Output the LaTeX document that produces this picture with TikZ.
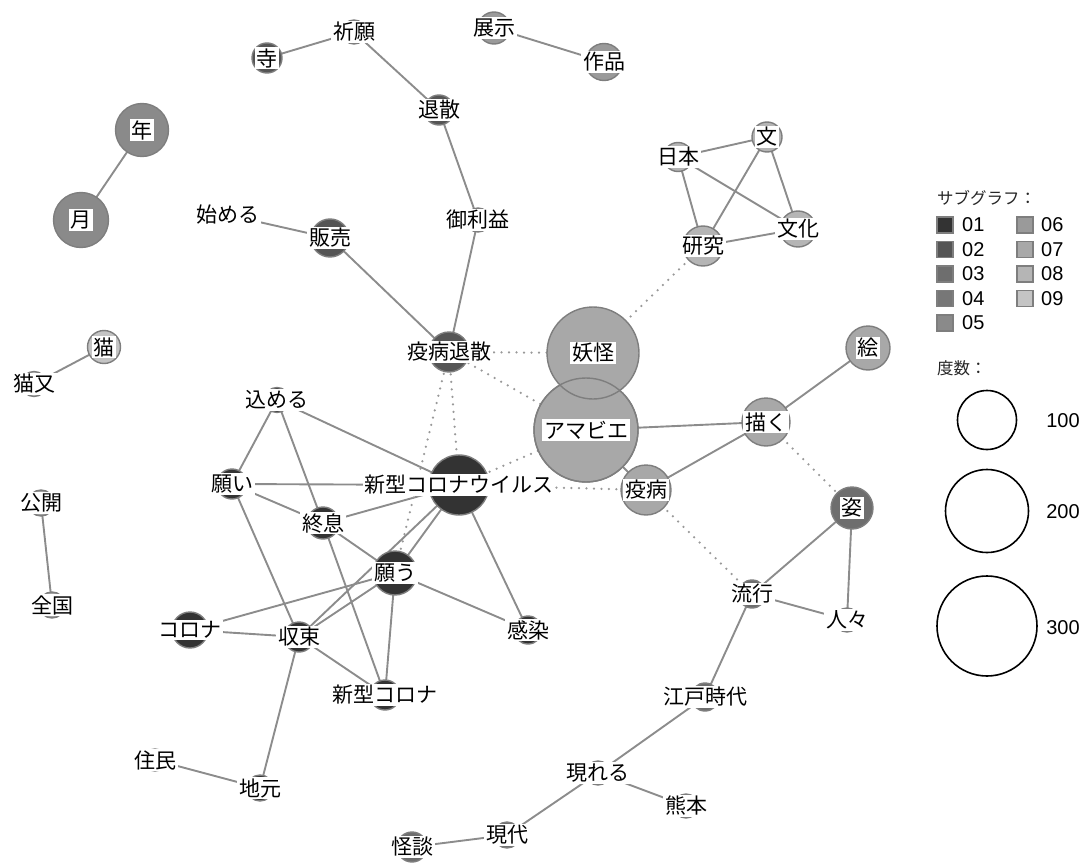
\documentclass[tikz,border=0pt]{standalone}
\usepackage{fontspec}
\setmainfont{Noto Sans CJK JP}
\newfontfamily\latinfont{Liberation Sans}
\definecolor{g1}{HTML}{333333}
\definecolor{g2}{HTML}{555555}
\definecolor{g3}{HTML}{6E6E6E}
\definecolor{g4}{HTML}{777777}
\definecolor{g5}{HTML}{8A8A8A}
\definecolor{g6}{HTML}{9A9A9A}
\definecolor{g7}{HTML}{A8A8A8}
\definecolor{g8}{HTML}{B5B5B5}
\definecolor{g9}{HTML}{C4C4C4}
\definecolor{gk}{HTML}{A2A2A2}
\definecolor{edgegray}{HTML}{8C8C8C}
\definecolor{dotgray}{HTML}{999999}
\definecolor{rimgray}{HTML}{7E7E7E}
\newcommand\labfont{\fontsize{21}{23}\selectfont}
\begin{document}
\begin{tikzpicture}[x=1pt,y=-1pt,
  edge/.style={draw=edgegray, line width=1.9pt},
  dotedge/.style={draw=dotgray, line width=2.5pt, line cap=round, dash pattern=on 0pt off 7.5pt},
  circ/.style={circle, draw=rimgray, line width=1.4pt, inner sep=0pt},
  lab/.style={fill=white, inner sep=1.6pt, font=\labfont},
  legsq/.style={draw=rimgray, line width=1.2pt, minimum size=16pt, inner sep=0pt},
  legtxt/.style={font=\latinfont\fontsize{20}{22}\selectfont, anchor=west, inner sep=0pt},
  legcirc/.style={circle, draw=black, line width=1.6pt, inner sep=0pt}
]
\useasboundingbox (0,0) rectangle (1085,867);
% node data: id / x / y / diameter / colour / label
\def\nodelist{
  sc/459/485/60/g1/新型コロナウイルス,
  negau/395/573/44/g1/願う,
  shusoku/323/523/32/g1/終息,
  komeru/277/400/25/g1/込める,
  negai/232/484/30/g1/願い,
  corona/190/630/36/g1/コロナ,
  shuso/299/637/30/g1/収束,
  sccorona/385/695/30/g1/新型コロナ,
  kansen/528/630/28/g1/感染,
  jumin/155/760/22/g1/住民,
  jimoto/260/788/26/g1/地元,
  tera/267/58/30/g2/寺,
  kigan/354/32/24/g2/祈願,
  taisan/439/110/30/g2/退散,
  goriyaku/478/220/24/g2/御利益,
  ekitai/449/352/40/g2/疫病退散,
  hanbai/330/238/38/g2/販売,
  hajimeru/228/215/20/g2/始める,
  sugata/852/508/42/g3/姿,
  ryuko/752/594/28/g3/流行,
  hitobito/847/620/24/g3/人々,
  edo/705/697/28/g3/江戸時代,
  arawareru/598/773/24/g3/現れる,
  kumamoto/686/806/24/g3/熊本,
  gendai/507/835/26/g3/現代,
  kaidan/412/847/30/g3/怪談,
  nen/142/130/53/g5/年,
  tsuki/81/220/55/g5/月,
  tenji/494/28/32/g6/展示,
  sakuhin/604/62/37/g6/作品,
  amabie/586/430/104/g7/アマビエ,
  yokai/593/353/92/g7/妖怪,
  kaku/766/422/48/g7/描く,
  e/868/348/44/g7/絵,
  ekibyo/646/490/50/g7/疫病,
  nihon/678/157/29/g8/日本,
  bun/767/137/30/g8/文,
  bunka/798/229/36/g8/文化,
  kenkyu/703/246/40/g8/研究,
  kokai/41/503/26/gk/公開,
  zenkoku/52/605/26/gk/全国,
  neko/104/347/33/g9/猫,
  nekomata/34/384/25/g9/猫又
}
% positions
\foreach \nid/\nx/\ny/\nd/\nc/\nt in \nodelist {
  \coordinate (\nid) at (\nx,\ny);
}
% solid connectors
\foreach \a/\b in {nen/tsuki, tera/kigan, kigan/taisan, taisan/goriyaku, goriyaku/ekitai,
  hajimeru/hanbai, hanbai/ekitai, tenji/sakuhin,
  nihon/bun, nihon/kenkyu, nihon/bunka, bun/kenkyu, bun/bunka, kenkyu/bunka,
  neko/nekomata, kokai/zenkoku,
  amabie/kaku, kaku/e, kaku/ekibyo, amabie/ekibyo,
  sugata/ryuko, sugata/hitobito, ryuko/hitobito, ryuko/edo, edo/arawareru,
  arawareru/kumamoto, arawareru/gendai, gendai/kaidan,
  komeru/sc, komeru/negai, komeru/shusoku, negai/sc, negai/shusoku, negai/shuso,
  shusoku/sc, shusoku/negau, shusoku/sccorona, negau/sc, negau/corona, negau/shuso,
  negau/sccorona, negau/kansen, sc/kansen, sc/shuso, corona/shuso, shuso/sccorona,
  shuso/jimoto, jimoto/jumin}
  \draw[edge] (\a) -- (\b);
% dotted connectors
\foreach \a/\b in {ekitai/yokai, ekitai/amabie, ekitai/sc, ekitai/negau, yokai/kenkyu,
  amabie/sc, sc/ekibyo, kaku/sugata, ekibyo/ryuko}
  \draw[dotedge] (\a) -- (\b);
% circles
\foreach \nid/\nx/\ny/\nd/\nc/\nt in \nodelist {
  \node[circ, fill=\nc, minimum size=\nd pt] (\nid-c) at (\nid) {};
}
\draw[rimgray, line width=1.4pt] (amabie) circle (52);
% labels
\foreach \nid/\nx/\ny/\nd/\nc/\nt in \nodelist {
  \node[lab] (\nid-l) at (\nid) {\nt};
}
% legend: subgraphs
\node[anchor=west, inner sep=0pt, font=\fontsize{16.5}{18}\selectfont, text=black!85] (subttl) at (937,198) {サブグラフ：};
\foreach \k/\cc/\yy in {01/g1/225, 02/g2/249.5, 03/g3/274, 04/g4/298.5, 05/g5/323} {
  \node[legsq, fill=\cc] (sq\k) at (945,\yy) {};
  \node[legtxt] (sl\k) at (962,\yy) {\k};
}
\foreach \k/\cc/\yy in {06/g6/225, 07/g7/249.5, 08/g8/274, 09/g9/298.5} {
  \node[legsq, fill=\cc] (sq\k) at (1025,\yy) {};
  \node[legtxt] (sl\k) at (1041,\yy) {\k};
}
% legend: frequency
\node[anchor=west, inner sep=0pt, font=\fontsize{16.5}{18}\selectfont, text=black!85] (freqttl) at (937,368) {度数：};
\node[legcirc, minimum size=59pt] (f100) at (987,420) {};
\node[legcirc, minimum size=83pt] (f200) at (987,511) {};
\node[legcirc, minimum size=100pt] (f300) at (987,626) {};
\node[legtxt, anchor=center] (t100) at (1063,421) {100};
\node[legtxt, anchor=center] (t200) at (1063,512) {200};
\node[legtxt, anchor=center] (t300) at (1063,628) {300};
\end{tikzpicture}
\end{document}
